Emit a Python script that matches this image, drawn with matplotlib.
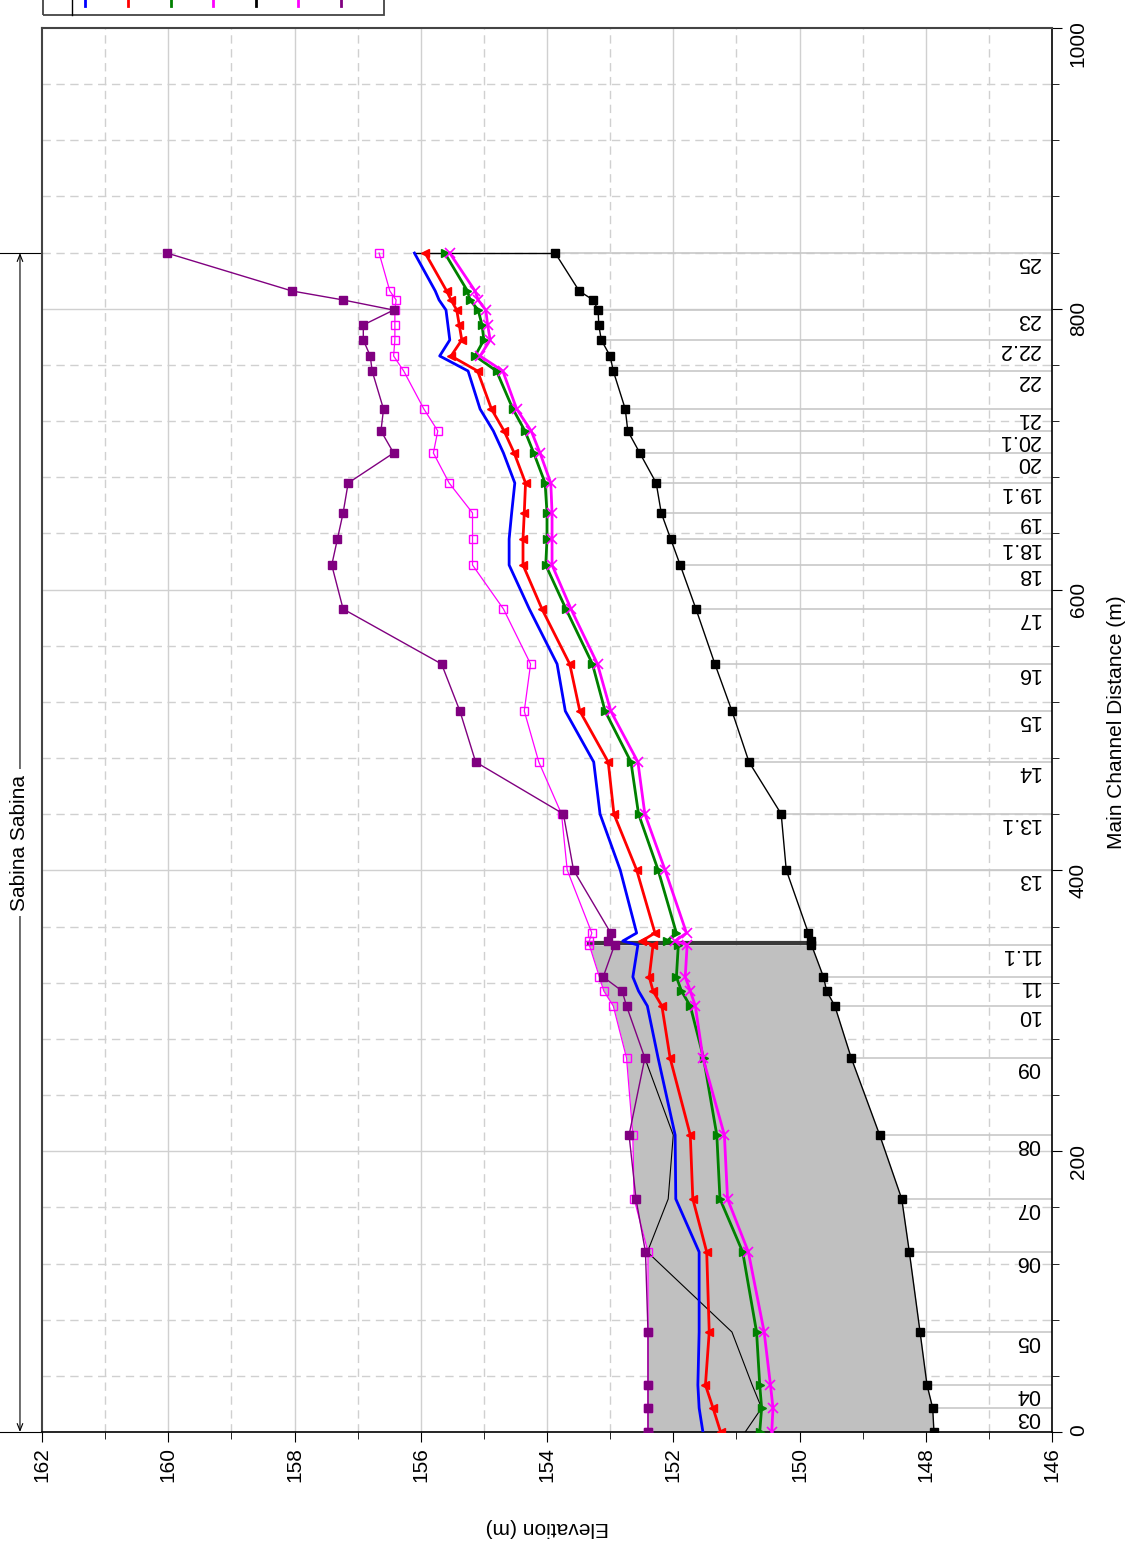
import matplotlib
matplotlib.use("Agg")
import matplotlib.pyplot as plt
from matplotlib.lines import Line2D
from matplotlib.patches import Rectangle

plt.rcParams['font.family'] = ['Liberation Sans', 'DejaVu Sans']

W, H = 1136, 1550

# river stations (labels shown only where non-empty) and main channel distance (m)
station_labels = ['', '03', '04', '05', '06', '07', '08', '09', '10', '', '11', '11.1', '', '',
                  '13', '13.1', '14', '15', '16', '17', '18', '18.1', '19', '19.1', '20', '20.1',
                  '21', '22', '', '22.2', '', '23', '', '', '25']
distance = [0, 17.1, 33.5, 71.2, 128.2, 166.0, 211.5, 266.4, 303.4, 314.1, 324.1, 346.9, 349.7, 355.4,
            400.3, 440.2, 477.2, 513.5, 547.0, 586.2, 617.5, 636.0, 654.6, 675.9, 697.3, 713.0,
            728.6, 755.7, 766.4, 777.8, 788.5, 799.1, 806.3, 812.7, 839.7]

ground = [147.87, 147.89, 147.98, 148.09, 148.26, 148.38, 148.73, 149.18, 149.44, 149.57, 149.62,
          149.81, 149.81, 149.86, 150.21, 150.29, 150.80, 151.07, 151.34, 151.64, 151.89, 152.04,
          152.19, 152.27, 152.53, 152.72, 152.76, 152.95, 153.00, 153.14, 153.18, 153.19, 153.27,
          153.49, 153.87]
ws_blue = [151.53, 151.59, 151.61, 151.59, 151.59, 151.96, 151.97, 152.24, 152.41, 152.55, 152.64,
           152.56, 152.80, 152.58, 152.84, 153.16, 153.26, 153.71, 153.84, 154.28, 154.60, 154.60,
           154.56, 154.51, 154.69, 154.85, 155.06, 155.25, 155.70, 155.54, 155.57, 155.60, 155.71,
           155.77, 156.10]
ws_red = [151.25, 151.37, 151.49, 151.43, 151.47, 151.69, 151.73, 152.05, 152.18, 152.32, 152.38,
          152.32, 152.50, 152.29, 152.58, 152.94, 153.03, 153.48, 153.64, 154.08, 154.38, 154.38,
          154.36, 154.34, 154.52, 154.68, 154.88, 155.10, 155.52, 155.35, 155.39, 155.43, 155.52,
          155.59, 155.93]
ws_green = [150.63, 150.60, 150.63, 150.68, 150.90, 151.26, 151.31, 151.52, 151.73, 151.87, 151.95,
            151.92, 152.10, 151.95, 152.24, 152.55, 152.67, 153.08, 153.28, 153.70, 154.02, 154.00,
            154.00, 154.03, 154.21, 154.35, 154.54, 154.80, 155.14, 155.00, 155.03, 155.09, 155.22,
            155.26, 155.62]
ws_magenta = [150.44, 150.42, 150.46, 150.56, 150.81, 151.14, 151.19, 151.53, 151.65, 151.73, 151.81,
              151.78, 151.97, 151.79, 152.13, 152.45, 152.56, 152.99, 153.20, 153.62, 153.92, 153.92,
              153.92, 153.94, 154.11, 154.25, 154.48, 154.70, 155.06, 154.90, 154.94, 154.97, 155.09,
              155.14, 155.54]
left_bank = [152.40, 152.40, 152.40, 152.40, 152.40, 152.62, 152.64, 152.74, 152.95, 153.10, 153.17,
             153.33, 153.33, 153.29, 153.68, 153.77, 154.13, 154.36, 154.26, 154.69, 155.18, 155.18,
             155.18, 155.55, 155.80, 155.73, 155.95, 156.27, 156.43, 156.41, 156.41, 156.41, 156.39,
             156.49, 156.66]
right_bank = [152.40, 152.40, 152.40, 152.40, 152.44, 152.59, 152.70, 152.45, 152.74, 152.81, 153.11,
              152.93, 153.03, 152.99, 153.58, 153.74, 155.13, 155.38, 155.67, 157.23, 157.41, 157.32,
              157.23, 157.15, 156.43, 156.63, 156.59, 156.77, 156.80, 156.91, 156.91, 156.43, 157.23,
              158.04, 160.02]
crit_dist = [0, 17.1, 33.5, 71.2, 128.2, 166.0, 211.5, 266.4]
crit = [150.86, 150.60, 150.75, 151.07, 152.41, 152.08, 152.00, 152.45]

structure_dist = 348.3
fill_end = 12  # gray area stops at the structure

fig = plt.figure(figsize=(W / 100, H / 100), dpi=100)
ax = fig.add_axes([42 / W, 1 - 1432 / H, 1010 / W, 1404 / H])
ax.set_xlim(162, 146)
ax.set_ylim(0, 1000)

# grid
grid_c = '#d0d0d0'
for e in range(147, 162):
    ax.axvline(e, color=grid_c, lw=1.0, ls='-' if e % 2 == 0 else (0, (6, 4)), zorder=0)
for d in range(40, 1000, 40):
    ax.axhline(d, color=grid_c, lw=1.0, ls='-' if d % 200 == 0 else (0, (6, 4)), zorder=0)

# gray area between channel bottom and bank
ax.fill_betweenx(distance[:fill_end], ground[:fill_end], left_bank[:fill_end],
                 color='#c0c0c0', lw=0, zorder=1)
ax.plot([left_bank[11], ground[11]], [structure_dist, structure_dist],
        color='#3a3a3a', lw=3, zorder=2)

# river station lines and labels
for lab, d, g in zip(station_labels, distance, ground):
    if not lab:
        continue
    ax.plot([g, 146], [d, d], color='#c8c8c8', lw=1.2, zorder=1.5)
    ax.text(146.19, d - 7, lab, rotation=180, ha='right', va='center', fontsize=15.5)

# profiles
ax.plot(ws_blue, distance, color='#0000ff', lw=2.0, zorder=4)
ax.plot(ws_red, distance, color='#ff0000', lw=2.0, marker='<', ms=6, zorder=4)
ax.plot(ws_green, distance, color='#008000', lw=2.0, marker='>', ms=6, zorder=4)
ax.plot(ws_magenta, distance, color='#ff00ff', lw=2.0, marker='x', ms=6.5, mew=1.2, zorder=4)
ax.plot(crit, crit_dist, color='black', lw=0.8, zorder=3)
ax.plot([ws_blue[-1], ground[-1]], [distance[-1], distance[-1]], color='black', lw=1.0, zorder=3)
ax.plot(ground, distance, color='black', lw=1.0, marker='s', ms=6, zorder=5)
ax.plot(left_bank, distance, color='#ff00ff', lw=0.9, marker='s', ms=6.2, mfc='none', mew=1.0, zorder=5)
ax.plot(right_bank, distance, color='#800080', lw=1.0, marker='s', ms=6.2, zorder=5)

# axes
for side in ['left', 'top']:
    ax.spines[side].set_color('#444444')
    ax.spines[side].set_linewidth(1.5)
for side in ['right', 'bottom']:
    ax.spines[side].set_color('black')
    ax.spines[side].set_linewidth(1.2)

ax.set_xticks(range(146, 163, 2))
ax.set_xticks(range(147, 162, 2), minor=True)
ax.yaxis.tick_right()
ax.set_yticks(range(0, 1001, 200))
ax.set_yticks(range(40, 1000, 40), minor=True)
ax.tick_params(axis='both', which='major', direction='out', length=7, labelsize=15, labelrotation=90)
ax.tick_params(axis='both', which='minor', direction='out', length=5)
ax.tick_params(axis='x', pad=4)
ax.tick_params(axis='y', pad=5)

fig.text(547 / W, 1 - 1527 / H, 'Elevation (m)', rotation=180, ha='center', va='center', fontsize=15)
fig.text(1117 / W, 1 - 722 / H, 'Main Channel Distance (m)', rotation=90,
         ha='center', va='center', fontsize=15)

# reach annotation on the left
tr = ax.get_yaxis_transform()
ax.annotate('', xy=(-0.0218, 0), xytext=(-0.0218, distance[-1]), xycoords=tr, textcoords=tr,
            arrowprops=dict(arrowstyle='<->,head_length=0.5,head_width=0.2', lw=0.8, color='black',
                            shrinkA=0, shrinkB=0), annotation_clip=False)
for d in [0, distance[-1]]:
    ax.add_line(Line2D([-0.042, 0], [d, d], transform=tr, color='black', lw=0.8, clip_on=False))
ax.text(-0.0218, distance[-1] / 2, 'Sabina Sabina', transform=tr, rotation=90, ha='center',
        va='center', fontsize=15, bbox=dict(fc='white', ec='none', pad=4))

# legend box (cut off at the top edge)
fig.add_artist(Rectangle((43 / W, 1 - 15 / H), 341 / W, 40 / H, transform=fig.transFigure,
                         fill=False, ec='#444444', lw=1.3))
fig.add_artist(Line2D([72 / W, 72 / W], [1 - 15 / H, 1], transform=fig.transFigure, color='black', lw=1))
legend_colors = ['#0000ff', '#ff0000', '#008000', '#ff00ff', 'black', '#ff00ff', '#800080']
legend_x = [85, 128, 171, 213, 256, 298, 341]
for c, x in zip(legend_colors, legend_x):
    fig.add_artist(Line2D([x / W, x / W], [1 - 6 / H, 1], transform=fig.transFigure, color=c, lw=2))

fig.savefig('out.png', dpi=100)
